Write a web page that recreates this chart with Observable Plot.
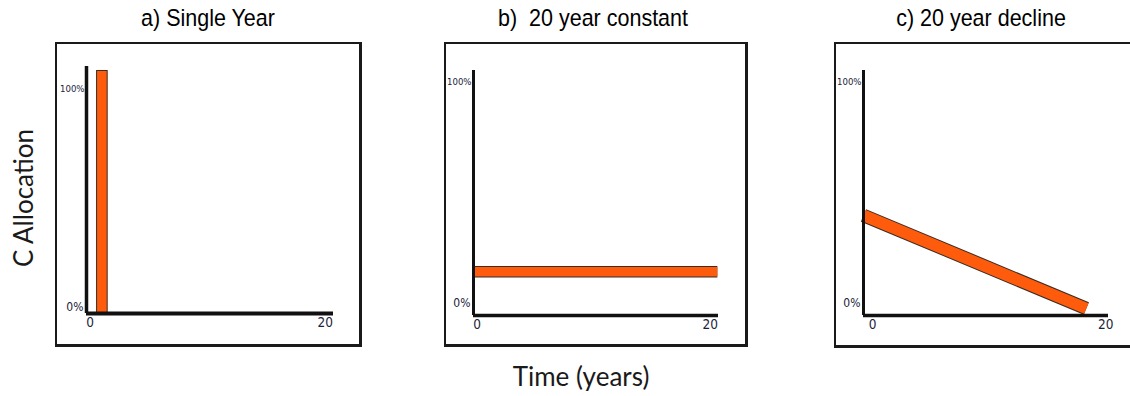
<!DOCTYPE html>
<html>
<head>
<meta charset="utf-8">
<script src="https://cdn.jsdelivr.net/npm/d3@7"></script>
<script src="https://cdn.jsdelivr.net/npm/@observablehq/plot@0.6"></script>
<style>
  html, body { margin: 0; padding: 0; background: #fff; }
  #wrap { position: relative; width: 1130px; height: 396px; overflow: hidden; background: #fff; }
  .title { position: absolute; width: 300px; text-align: center; top: 5px; line-height: 26px;
           font-family: "Liberation Sans", Arial, sans-serif;
           font-size: 21.5px; color: #000; transform: scaleY(1.08); white-space: pre; }
  .box { position: absolute; outline: 2px solid #1a1a1a; outline-offset: -2px; box-shadow: inset -3px -3px 0 #1a1a1a; }
  .box svg { position: absolute; left: 0; top: 0; }
  .axlabel { position: absolute; font-family: Lato, "Open Sans", sans-serif; color: #1a1a1a; text-align: center; }
</style>
</head>
<body>
<div id="wrap"></div>
<script>
// ---- data ----
const panelTitles = ["a) Single Year", "b)  20 year constant", "c) 20 year decline"];
const yAxisTitle = "C Allocation";
const xAxisTitle = "Time (years)";
const xTicks = [0, 20];
const yTicks = [0, 100];
const yTickLabels = ["0%", "100%"];

// a) single year pulse
const singleYearStart = [0.9];
const singleYearEnd = [1.8];
const singleYearValue = [108];

// b) constant over 20 years
const constantYears = [0, 20.9];
const constantValues = [18.7, 18.7];

// c) linear decline over 20 years
const declineYears = [0, 19.1];
const declineValues = [42.9, 3.0];

// ---- layout ----
const ORANGE = "#ff5b0c";
const OUTLINE = "#3b2b22";
const wrap = document.getElementById("wrap");

const boxes = [
  {left: 55,  top: 42, w: 307, h: 305, ml: 31, mr: 29, mt: 24, mb: 34, yMax: 110, xdx: 3.5, zeroDy: -6,  yAxisW: 3.5, xAxisW: 4, center: 208},
  {left: 444, top: 42, w: 304, h: 305, ml: 29, mr: 30, mt: 28, mb: 32, yMax: 105, xdx: 3.5, zeroDy: -12, yAxisW: 3,   xAxisW: 3.5, center: 593},
  {left: 834, top: 42, w: 307, h: 306, ml: 29, mr: 33, mt: 28, mb: 33, yMax: 105, xdx: 9,   zeroDy: -12, yAxisW: 3,   xAxisW: 3.5, center: 981}
];

function dataMarks(i) {
  if (i === 0) {
    const rows = singleYearStart.map((s, k) => ({x1: s, x2: singleYearEnd[k], y: singleYearValue[k]}));
    return [Plot.rect(rows, {x1: "x1", x2: "x2", y1: 0, y2: "y", fill: ORANGE, stroke: OUTLINE, strokeWidth: 1})];
  }
  const xs = i === 1 ? constantYears : declineYears;
  const ys = i === 1 ? constantValues : declineValues;
  const rows = xs.map((x, k) => ({x, y: ys[k]}));
  const w = i === 1 ? 11.5 : 13.5;
  return [
    Plot.line(rows, {x: "x", y: "y", stroke: OUTLINE, strokeWidth: w, strokeLinecap: "butt"}),
    Plot.line(rows, {x: "x", y: "y", stroke: ORANGE, strokeWidth: w - 2, strokeLinecap: "butt"})
  ];
}

boxes.forEach((b, i) => {
  const t = document.createElement("div");
  t.className = "title";
  t.style.left = (b.center - 150) + "px";
  t.textContent = panelTitles[i];
  wrap.appendChild(t);

  const box = document.createElement("div");
  box.className = "box";
  Object.assign(box.style, {left: b.left + "px", top: b.top + "px", width: b.w + "px", height: b.h + "px"});

  const chart = Plot.plot({
    width: b.w, height: b.h,
    marginLeft: b.ml, marginRight: b.mr, marginTop: b.mt, marginBottom: b.mb,
    x: {domain: [0, 21]},
    y: {domain: [0, b.yMax]},
    style: {background: "transparent", overflow: "visible", fontFamily: "'DejaVu Sans Condensed', 'Liberation Sans', sans-serif"},
    marks: [
      ...dataMarks(i),
      Plot.ruleX([0], {stroke: "#111", strokeWidth: b.yAxisW}),
      Plot.ruleY([0], {stroke: "#111", strokeWidth: b.xAxisW}),
      Plot.axisX(xTicks, {tickSize: 0, tickPadding: 4, dx: b.xdx, fontSize: 13.5, fill: "#1b2238", label: null, tickFormat: d => String(d)}),
      Plot.axisY([yTicks[0]], {tickSize: 0, tickPadding: 3, dy: b.zeroDy, fontSize: 12, fill: "#1b2238", label: null, tickFormat: () => yTickLabels[0]}),
      Plot.axisY([yTicks[1]], {tickSize: 0, tickPadding: 2, fontSize: 9.5, fill: "#1b2238", label: null, tickFormat: () => yTickLabels[1]})
    ]
  });
  box.appendChild(chart);
  wrap.appendChild(box);
});

const yl = document.createElement("div");
yl.className = "axlabel";
Object.assign(yl.style, {left: (23 - 100) + "px", top: (198 - 15) + "px", width: "200px", height: "30px", lineHeight: "30px", fontSize: "26px", transform: "rotate(-90deg)"});
yl.textContent = yAxisTitle;
wrap.appendChild(yl);

const xl = document.createElement("div");
xl.className = "axlabel";
Object.assign(xl.style, {left: (581 - 150) + "px", top: "361px", width: "300px", lineHeight: "30px", fontSize: "26px"});
xl.textContent = xAxisTitle;
wrap.appendChild(xl);
</script>
</body>
</html>
